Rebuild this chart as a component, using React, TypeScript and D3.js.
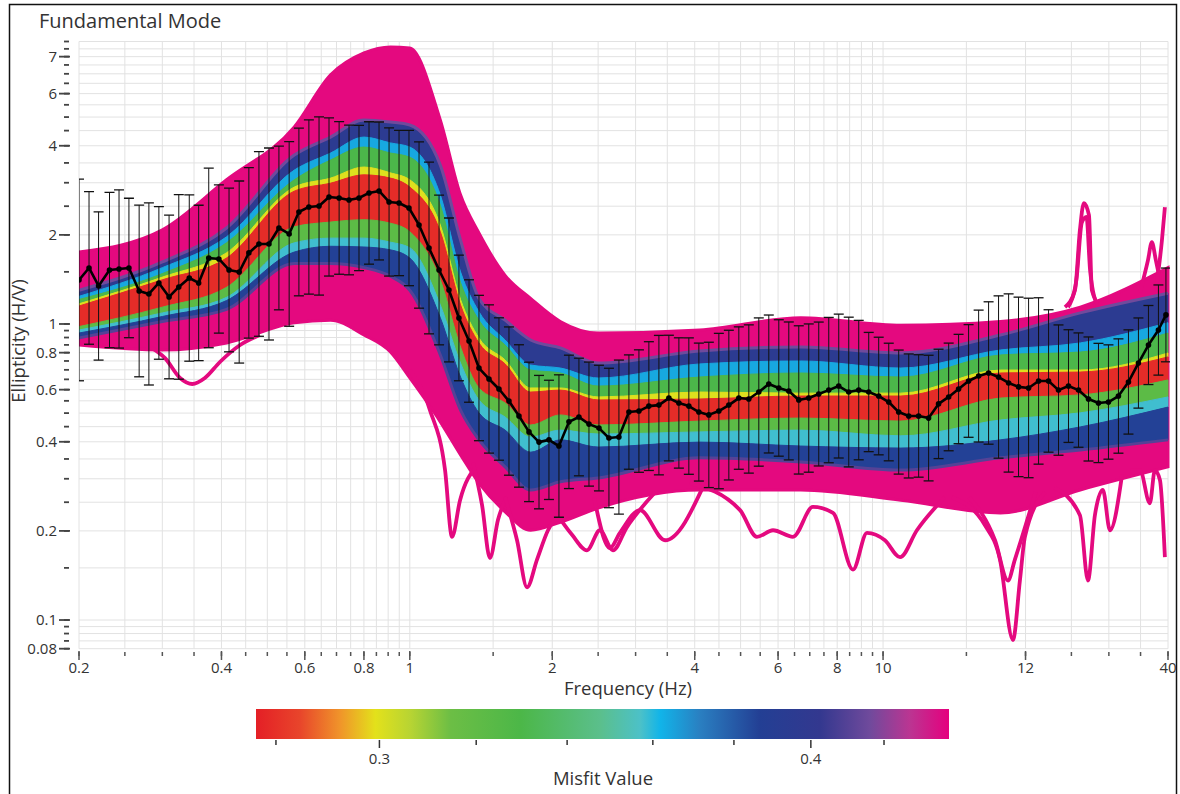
import React from "react";
import * as d3 from "d3";

// ---------------- Data ----------------
// mean ellipticity curve with standard deviation (factor) at each frequency
const freqs = [
  0.2, 0.21, 0.22, 0.232, 0.243, 0.255, 0.268, 0.281, 0.295, 0.31,
  0.325, 0.342, 0.358, 0.376, 0.395, 0.415, 0.436, 0.457, 0.48, 0.504,
  0.529, 0.556, 0.583, 0.612, 0.643, 0.675, 0.709, 0.744, 0.781, 0.82,
  0.861, 0.904, 0.949, 0.996, 1.046, 1.098, 1.153, 1.21, 1.27, 1.334,
  1.4, 1.47, 1.543, 1.62, 1.701, 1.786, 1.875, 1.968, 2.066, 2.169,
  2.277, 2.391, 2.51, 2.635, 2.766, 2.904, 3.049, 3.2, 3.36, 3.527,
  3.703, 3.887, 4.081, 4.284, 4.498, 4.722, 4.957, 5.204, 5.463, 5.735,
  6.021, 6.321, 6.636, 6.966, 7.313, 7.678, 8.06, 8.462, 8.883, 9.326,
  9.79, 10.28, 10.79, 11.33, 11.89, 12.48, 13.1, 13.76, 14.44, 15.16,
  15.92, 16.71, 17.54, 18.42, 19.33, 20.3, 21.31, 22.37, 23.48, 24.65,
  25.88, 27.17, 28.52, 29.94, 31.43, 33.0, 34.64, 36.37, 38.18, 39.6,
];
const meanEll = [
  1.408, 1.546, 1.344, 1.522, 1.534, 1.546, 1.293, 1.263, 1.376, 1.234,
  1.334, 1.43, 1.376, 1.671, 1.658, 1.522, 1.498, 1.738, 1.863, 1.863,
  2.11, 2.014, 2.39, 2.485, 2.504, 2.686, 2.665, 2.624, 2.665, 2.771,
  2.814, 2.584, 2.563, 2.465, 2.16, 1.806, 1.522, 1.303, 1.048, 0.876,
  0.71, 0.652, 0.603, 0.549, 0.489, 0.432, 0.399, 0.406, 0.387, 0.467,
  0.485, 0.459, 0.445, 0.412, 0.415, 0.504, 0.508, 0.528, 0.532, 0.562,
  0.541, 0.528, 0.504, 0.493, 0.508, 0.532, 0.562, 0.558, 0.589, 0.627,
  0.608, 0.594, 0.554, 0.562, 0.58, 0.598, 0.617, 0.589, 0.598, 0.589,
  0.571, 0.545, 0.504, 0.489, 0.489, 0.481, 0.537, 0.567, 0.603, 0.642,
  0.667, 0.683, 0.662, 0.632, 0.613, 0.608, 0.642, 0.642, 0.598, 0.617,
  0.598, 0.558, 0.541, 0.545, 0.571, 0.637, 0.738, 0.849, 0.954, 1.073,
];
const stdFactor = [
  2.19, 1.81, 1.78, 1.83, 1.85, 1.72, 1.95, 2.03, 1.81, 1.89,
  2.05, 1.91, 1.83, 2.01, 1.78, 1.89, 2.03, 1.94, 2.05, 2.11,
  1.89, 2.05, 1.92, 1.97, 2.0, 1.85, 1.81, 1.79, 1.76, 1.74,
  1.71, 1.78, 1.76, 1.83, 1.91, 1.95, 1.79, 1.75, 1.63, 1.61,
  1.76, 1.78, 1.74, 1.78, 1.74, 1.72, 1.68, 1.59, 1.74, 1.68,
  1.58, 1.62, 1.63, 1.72, 1.82, 1.56, 1.61, 1.65, 1.72, 1.63,
  1.66, 1.7, 1.71, 1.76, 1.83, 1.79, 1.74, 1.78, 1.78, 1.71,
  1.7, 1.71, 1.78, 1.78, 1.75, 1.76, 1.75, 1.79, 1.72, 1.59,
  1.58, 1.58, 1.62, 1.62, 1.61, 1.63, 1.53, 1.52, 1.53, 1.55,
  1.67, 1.74, 1.88, 2.0, 2.01, 2.01, 1.91, 1.74, 1.66, 1.55,
  1.56, 1.62, 1.59, 1.56, 1.56, 1.5, 1.42, 1.36, 1.42, 1.44,
];

// inverted model curves: envelope of the worst-misfit (magenta) curves
const bandFreqs = [0.2, 0.3, 0.41, 0.57, 0.68, 0.8, 0.91, 1.0, 1.16, 1.28, 1.4, 1.59, 1.8, 2.08, 2.5, 4.1, 6.7, 10.9, 17.7, 26.1, 40];
const envTop = [1.75, 2.08, 3.07, 4.63, 6.94, 8.23, 8.63, 8.56, 4.89, 2.73, 2.03, 1.46, 1.22, 1.02, 0.932, 0.954, 1.05, 0.99, 1.02, 1.14, 1.55];
const envBottom = [0.849, 0.817, 0.863, 1.01, 1.03, 0.918, 0.804, 0.657, 0.467, 0.361, 0.29, 0.232, 0.201, 0.214, 0.239, 0.275, 0.275, 0.254, 0.23, 0.275, 0.329];

// boundaries between misfit colour groups (top to bottom)
const edge0 = [1.3, 1.62, 2.11, 3.72, 4.28, 4.89, 4.81, 4.7, 3.44, 1.92, 1.22, 1.03, 0.883, 0.83, 0.738, 0.811, 0.836, 0.798, 0.918, 1.09, 1.27];
const edge1 = [1.24, 1.55, 1.97, 3.31, 3.78, 4.28, 4.09, 3.96, 2.73, 1.5, 1.1, 0.883, 0.727, 0.71, 0.657, 0.733, 0.75, 0.71, 0.817, 0.863, 1.01];
const edge2 = [1.21, 1.48, 1.88, 3.07, 3.58, 3.96, 3.78, 3.66, 2.52, 1.38, 1.03, 0.849, 0.699, 0.683, 0.617, 0.662, 0.683, 0.662, 0.786, 0.804, 0.932];
const edge3 = [1.17, 1.44, 1.74, 2.9, 3.11, 3.39, 3.24, 3.07, 2.16, 1.21, 0.897, 0.756, 0.608, 0.608, 0.567, 0.589, 0.584, 0.584, 0.699, 0.699, 0.798];
const edge4 = [1.15, 1.41, 1.67, 2.81, 2.99, 3.19, 3.11, 2.9, 2.05, 1.16, 0.863, 0.733, 0.589, 0.598, 0.554, 0.558, 0.571, 0.571, 0.683, 0.688, 0.774];
const edge5 = [0.98, 1.14, 1.33, 2.13, 2.21, 2.25, 2.19, 2.05, 1.41, 0.836, 0.608, 0.541, 0.456, 0.493, 0.456, 0.47, 0.481, 0.47, 0.562, 0.576, 0.647];
const edge6 = [0.954, 1.09, 1.23, 1.88, 1.95, 1.95, 1.89, 1.81, 1.16, 0.738, 0.554, 0.485, 0.415, 0.438, 0.425, 0.432, 0.438, 0.419, 0.474, 0.501, 0.567];
const edge7 = [0.932, 1.06, 1.2, 1.75, 1.83, 1.82, 1.78, 1.67, 1.05, 0.662, 0.501, 0.438, 0.369, 0.406, 0.384, 0.399, 0.387, 0.381, 0.406, 0.449, 0.524];
const edge8 = [0.897, 1.02, 1.12, 1.6, 1.6, 1.55, 1.45, 1.3, 0.786, 0.512, 0.406, 0.329, 0.275, 0.293, 0.302, 0.353, 0.342, 0.321, 0.353, 0.375, 0.406];
const bandMisfit = [0.395, 0.364, 0.33, 0.3, 0.279, 0.322, 0.358, 0.386];

// individual outlier (high misfit) curves
const dipA = { f: [0.283, 0.304, 0.327, 0.347, 0.369, 0.397, 0.438, 0.482], v: [0.836, 0.767, 0.657, 0.627, 0.657, 0.744, 0.849, 0.918] };
const dipB = { f: [1.0, 1.103, 1.187, 1.228, 1.277, 1.38], v: [0.7, 0.512, 0.321, 0.191, 0.254, 0.33] };
const dipC = { f: [1.36, 1.421, 1.477, 1.536, 1.6], v: [0.34, 0.245, 0.162, 0.218, 0.26] };
const dipD = { f: [1.589, 1.685, 1.769, 1.857, 1.959, 2.076], v: [0.26, 0.186, 0.129, 0.16, 0.201, 0.23] };
const dipE = { f: [2.0, 2.202, 2.368, 2.522, 2.687, 2.876, 3.3], v: [0.24, 0.194, 0.172, 0.201, 0.172, 0.206, 0.27] };
const dipF = { f: [2.45, 2.648, 2.78, 3.064, 3.462, 4.2], v: [0.26, 0.175, 0.197, 0.235, 0.186, 0.29] };
const dipG = { f: [3.9, 4.986, 5.414, 5.854, 6.452, 7.108, 7.838, 8.638, 9.248, 10.09, 10.86, 11.79, 13.5], v: [0.29, 0.235, 0.191, 0.201, 0.191, 0.241, 0.23, 0.148, 0.197, 0.186, 0.163, 0.201, 0.26] };
const dipH = { f: [14.0, 16.42, 17.66, 18.81, 19.46, 19.94, 22.0], v: [0.26, 0.209, 0.16, 0.0856, 0.136, 0.191, 0.27] };
const dipI = { f: [15.2, 17.24, 18.36, 18.99, 21.0], v: [0.26, 0.186, 0.136, 0.16, 0.27] };
const dipJ = { f: [23.0, 26.06, 27.1, 28.03, 29.14, 30.16, 32.0], v: [0.28, 0.226, 0.136, 0.226, 0.275, 0.201, 0.31] };
const dipK = { f: [33.25, 34.9, 36.62, 37.53, 38.46, 39.4], v: [0.321, 0.321, 0.248, 0.321, 0.297, 0.163] };
const spikeA = { f: [24.23, 25.44, 26.06, 26.57, 27.23, 27.62, 28.72], v: [1.14, 1.3, 2.08, 2.56, 2.33, 1.3, 1.15] };
const spikeA2 = { f: [24.6, 25.6, 26.3, 26.9, 27.4, 28.4], v: [1.14, 1.4, 2.2, 2.3, 1.5, 1.15] };
const spikeB = { f: [34.9, 36.28, 36.98, 37.71, 38.46], v: [1.28, 1.64, 1.89, 1.64, 1.41] };
const spikeC = { f: [37.71, 38.84, 39.4], v: [1.3, 1.92, 2.48] };
const outliers = [dipA, dipB, dipC, dipD, dipE, dipF, dipG, dipH, dipI, dipJ, dipK, spikeA, spikeA2, spikeB, spikeC];

// colour bar
const misfitStops = [0.2763, 0.2845, 0.2923, 0.2992, 0.3063, 0.3146, 0.3296, 0.3476, 0.357, 0.3618, 0.3715, 0.3866, 0.4024, 0.4161, 0.4273, 0.4386];
const misfitColors = ["#e41f26", "#e8452b", "#f0952a", "#e3e11b", "#b7d433", "#6cbe45", "#4cb748", "#5bbf8c", "#4cc1c8", "#11b4e9", "#2a7fc1", "#233f94", "#33388f", "#704a9c", "#bb3592", "#e5007e"];
const cbTickValues = [0.28, 0.3, 0.32, 0.34, 0.36, 0.38, 0.4, 0.42];
const cbLabelValues = [0.3, 0.4];
const cbLabelTexts = ["0.3", "0.4"];

// axes
const xLabelValues = [0.2, 0.4, 0.6, 0.8, 1, 2, 4, 6, 8, 10, 20, 40];
const xLabelTexts = ["0.2", "0.4", "0.6", "0.8", "1", "2", "4", "6", "8", "10", "12", "40"];
const yLabelValues = [0.08, 0.1, 0.2, 0.4, 0.6, 0.8, 1, 2, 4, 6, 8];
const yLabelTexts = ["0.08", "0.1", "0.2", "0.4", "0.6", "0.8", "1", "2", "4", "6", "7"];

const MAGENTA = "#e4097f";
const FONT = "'Open Sans', 'Noto Sans', sans-serif";

export default function App() {
  const X0 = 79, X1 = 1168, YB = 648.7, YT = 41.5;
  const x = d3.scaleLog().domain([0.2, 40]).range([X0, X1]);
  const y = d3.scaleLog().domain([0.08, 9]).range([YB, YT]);
  const color = d3.scaleLog<string>().domain(misfitStops).range(misfitColors).interpolate(d3.interpolateRgb);
  const cbX = d3.scaleLog().domain([0.2763, 0.4386]).range([256, 949]);
  const CB_Y = 709, CB_H = 30;

  const r4 = (v: number) => Math.round(v * 10000) / 10000;
  const xMinor = [
    ...d3.range(0.2, 1.0001, 0.05),
    ...d3.range(1.5, 10.0001, 0.5),
    ...d3.range(15, 40.0001, 5),
  ].map(r4);
  const yMinor = [
    ...d3.range(0.08, 0.0999, 0.005),
    ...d3.range(0.1, 0.9999, 0.05),
    ...d3.range(1, 9.0001, 0.5),
  ].map(r4);

  const bandArea = (top: number[], bot: number[]) =>
    d3
      .area<number>()
      .x((_, i) => x(bandFreqs[i]))
      .y0((_, i) => y(bot[i]))
      .y1((_, i) => y(top[i]))
      .curve(d3.curveMonotoneX)(bandFreqs) as string;

  const bandLine = (vals: number[]) =>
    d3
      .line<number>()
      .x((_, i) => x(bandFreqs[i]))
      .y((d) => y(d))
      .curve(d3.curveMonotoneX)(vals) as string;

  const curveLine = (c: { f: number[]; v: number[] }) =>
    d3
      .line<number>()
      .x((_, i) => x(c.f[i]))
      .y((d) => y(d))
      .curve(d3.curveMonotoneX)(c.v) as string;

  const edges = [edge0, edge1, edge2, edge3, edge4, edge5, edge6, edge7, edge8];

  const meanLine = d3
    .line<number>()
    .x((_, i) => x(freqs[i]))
    .y((d) => y(d))(meanEll) as string;

  const clampY = (v: number) => Math.max(0.08, Math.min(9, v));

  return (
    <svg
      width={1180}
      height={794}
      style={{ position: "absolute", left: 0, top: 0, background: "#fff" }}
      fontFamily={FONT}
    >
      <defs>
        <linearGradient id="cbGrad" x1="0" x2="1" y1="0" y2="0">
          {misfitStops.map((m, i) => (
            <stop key={i} offset={(cbX(m) - 256) / (949 - 256)} stopColor={misfitColors[i]} />
          ))}
        </linearGradient>
        <clipPath id="plotClip">
          <rect x={X0} y={YT} width={X1 - X0 + 2} height={YB - YT} />
        </clipPath>
      </defs>

      {/* frame */}
      <rect x={9.5} y={4.5} width={1167} height={820} fill="none" stroke="#111" strokeWidth={1.5} />

      {/* grid */}
      <g stroke="#e2e2e2" strokeWidth={1}>
        {xMinor.map((v, i) => (
          <line key={"gx" + i} x1={x(v)} x2={x(v)} y1={YT} y2={YB} />
        ))}
        {yMinor.map((v, i) => (
          <line key={"gy" + i} x1={X0} x2={X1} y1={y(v)} y2={y(v)} />
        ))}
      </g>

      <g clipPath="url(#plotClip)">
        {/* magenta envelope of high-misfit models */}
        <path d={bandArea(envTop, envBottom)} fill={MAGENTA} stroke={MAGENTA} strokeWidth={3} />
        {outliers.map((c, i) => (
          <path key={"o" + i} d={curveLine(c)} fill="none" stroke={MAGENTA} strokeWidth={3.8} strokeLinejoin="round" />
        ))}

        {/* misfit colour bands */}
        {bandMisfit.map((m, i) => (
          <path key={"b" + i} d={bandArea(edges[i], edges[i + 1])} fill={color(m)} stroke={color(m)} strokeWidth={1} />
        ))}
        <path d={bandLine(edge0)} fill="none" stroke={color(0.416)} strokeWidth={3} />
        <path d={bandLine(edge8)} fill="none" stroke={color(0.41)} strokeWidth={3} />

        {/* error bars */}
        <g stroke="#111" strokeWidth={1}>
          {freqs.map((f, i) => {
            const hi = y(clampY(meanEll[i] * stdFactor[i]));
            const lo = y(clampY(meanEll[i] / stdFactor[i]));
            const cx = x(f);
            return (
              <g key={"e" + i}>
                <line x1={cx} x2={cx} y1={hi} y2={lo} />
                <line x1={cx - 5} x2={cx + 5} y1={hi} y2={hi} strokeWidth={1.3} />
                <line x1={cx - 5} x2={cx + 5} y1={lo} y2={lo} strokeWidth={1.3} />
              </g>
            );
          })}
        </g>

        {/* mean curve */}
        <path d={meanLine} fill="none" stroke="#000" strokeWidth={2.6} strokeLinejoin="round" />
        {freqs.map((f, i) => (
          <circle key={"m" + i} cx={x(f)} cy={y(meanEll[i])} r={2.8} fill="#000" />
        ))}
      </g>

      {/* y axis ticks */}
      <g stroke="#444" strokeWidth={1.8}>
        {yMinor.map((v, i) => (
          <line key={"yt" + i} x1={64} x2={69} y1={y(v)} y2={y(v)} />
        ))}
        {yLabelValues.map((v, i) => (
          <line key={"yT" + i} x1={59} x2={70} y1={y(v)} y2={y(v)} />
        ))}
      </g>
      <g fontSize={15} fill="#333" textAnchor="end">
        {yLabelValues.map((v, i) => (
          <text key={"yl" + i} x={57} y={y(v)} dy="0.35em">
            {yLabelTexts[i]}
          </text>
        ))}
      </g>

      {/* x axis ticks */}
      <g stroke="#555" strokeWidth={1.5}>
        {xMinor.map((v, i) => (
          <line key={"xt" + i} x1={x(v)} x2={x(v)} y1={652} y2={656} />
        ))}
        {xLabelValues.map((v, i) => (
          <line key={"xT" + i} x1={x(v)} x2={x(v)} y1={651} y2={660} />
        ))}
      </g>
      <g fontSize={15} fill="#333" textAnchor="middle">
        {xLabelValues.map((v, i) => (
          <text key={"xl" + i} x={x(v)} y={673}>
            {xLabelTexts[i]}
          </text>
        ))}
      </g>

      {/* titles */}
      <text x={39} y={28} fontSize={20} fill="#333">
        Fundamental Mode
      </text>
      <text x={628} y={695} fontSize={18.5} fill="#333" textAnchor="middle">
        Frequency (Hz)
      </text>
      <text transform="translate(25,341) rotate(-90)" fontSize={18.5} fill="#333" textAnchor="middle">
        Ellipticity (H/V)
      </text>

      {/* colour bar */}
      <rect x={256} y={CB_Y} width={949 - 256} height={CB_H} fill="url(#cbGrad)" />
      <g stroke="#333" strokeWidth={1.5}>
        {cbTickValues.map((m, i) => (
          <line
            key={"ct" + i}
            x1={cbX(m)}
            x2={cbX(m)}
            y1={CB_Y + CB_H + 1}
            y2={CB_Y + CB_H + (cbLabelValues.includes(m) ? 9 : 6)}
          />
        ))}
      </g>
      <g fontSize={15} fill="#333" textAnchor="middle">
        {cbLabelValues.map((m, i) => (
          <text key={"cl" + i} x={cbX(m)} y={764}>
            {cbLabelTexts[i]}
          </text>
        ))}
      </g>
      <text x={603} y={785} fontSize={18.5} fill="#333" textAnchor="middle">
        Misfit Value
      </text>
    </svg>
  );
}
